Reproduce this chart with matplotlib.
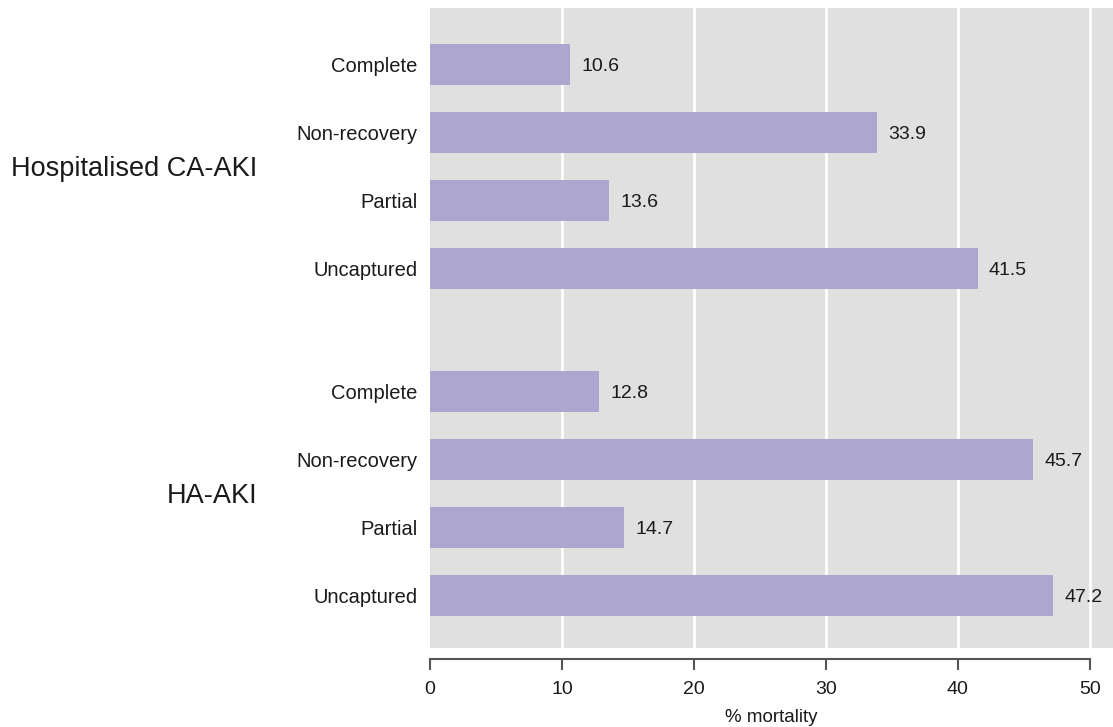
import matplotlib

matplotlib.use("Agg")
import matplotlib.pyplot as plt
import matplotlib.transforms as mtransforms
import numpy as np

GROUPS = ["Hospitalised CA-AKI", "HA-AKI"]
CATEGORIES = ["Complete", "Non-recovery", "Partial", "Uncaptured"]
CA_AKI = [10.6, 33.9, 13.6, 41.5]
HA_AKI = [12.8, 45.7, 14.7, 47.2]
X_TICKS = [0, 10, 20, 30, 40, 50]

BAR_COLOR = "#ada7d0"
PANEL_COLOR = "#e0e0e0"
TEXT_COLOR = "#1a1a1a"
GROUP_GAP = 1.82

plt.rcParams["font.family"] = ["Liberation Sans", "DejaVu Sans"]

fig = plt.figure(figsize=(11.13, 7.27), dpi=100)
ax = fig.add_axes([430 / 1113, 1 - 648 / 727, 1 - 430 / 1113, (648 - 8) / 727])
ax.set_facecolor(PANEL_COLOR)

n = len(CATEGORIES)
pos1 = np.arange(n)
pos2 = np.arange(n) + n - 1 + GROUP_GAP
positions = np.concatenate([pos1, pos2])
values = CA_AKI + HA_AKI

for x in X_TICKS[1:]:
    ax.axvline(x, color="white", linewidth=2, zorder=1)

ax.barh(positions, values, height=0.6, color=BAR_COLOR, zorder=2)

for y, v in zip(positions, values):
    ax.annotate(f"{v:.1f}", xy=(v, y), xytext=(8, -1.5), textcoords="offset points",
                ha="left", va="center", fontsize=14, color=TEXT_COLOR)

ax.set_xlim(0, 51.75)
ax.set_ylim(positions[-1] + 0.77, -0.83)

ax.set_yticks(positions)
ax.set_yticklabels(CATEGORIES * 2)
ax.tick_params(axis="y", length=0, pad=9, labelsize=14.5, labelcolor=TEXT_COLOR)

ax.set_xticks(X_TICKS)
ax.set_xticklabels([str(t) for t in X_TICKS])
ax.tick_params(axis="x", length=8, width=1.5, color="#555555", pad=8,
               labelsize=14, labelcolor=TEXT_COLOR)
ax.set_xlabel("% mortality", fontsize=13.5, color=TEXT_COLOR, labelpad=8)

for side in ["top", "right", "left"]:
    ax.spines[side].set_visible(False)
ax.spines["bottom"].set_position(("outward", 8))
ax.spines["bottom"].set_bounds(0, 50)
ax.spines["bottom"].set_color("#555555")
ax.spines["bottom"].set_linewidth(1.5)

# group titles, right-aligned left of the category labels
trans = mtransforms.blended_transform_factory(fig.transFigure, ax.transData)
for name, pos in zip(GROUPS, [pos1, pos2]):
    ax.text(257 / 1113, pos.mean() + 0.04, name, transform=trans, ha="right",
            va="center", fontsize=19.5, color=TEXT_COLOR)

fig.savefig("out.png", dpi=100)
